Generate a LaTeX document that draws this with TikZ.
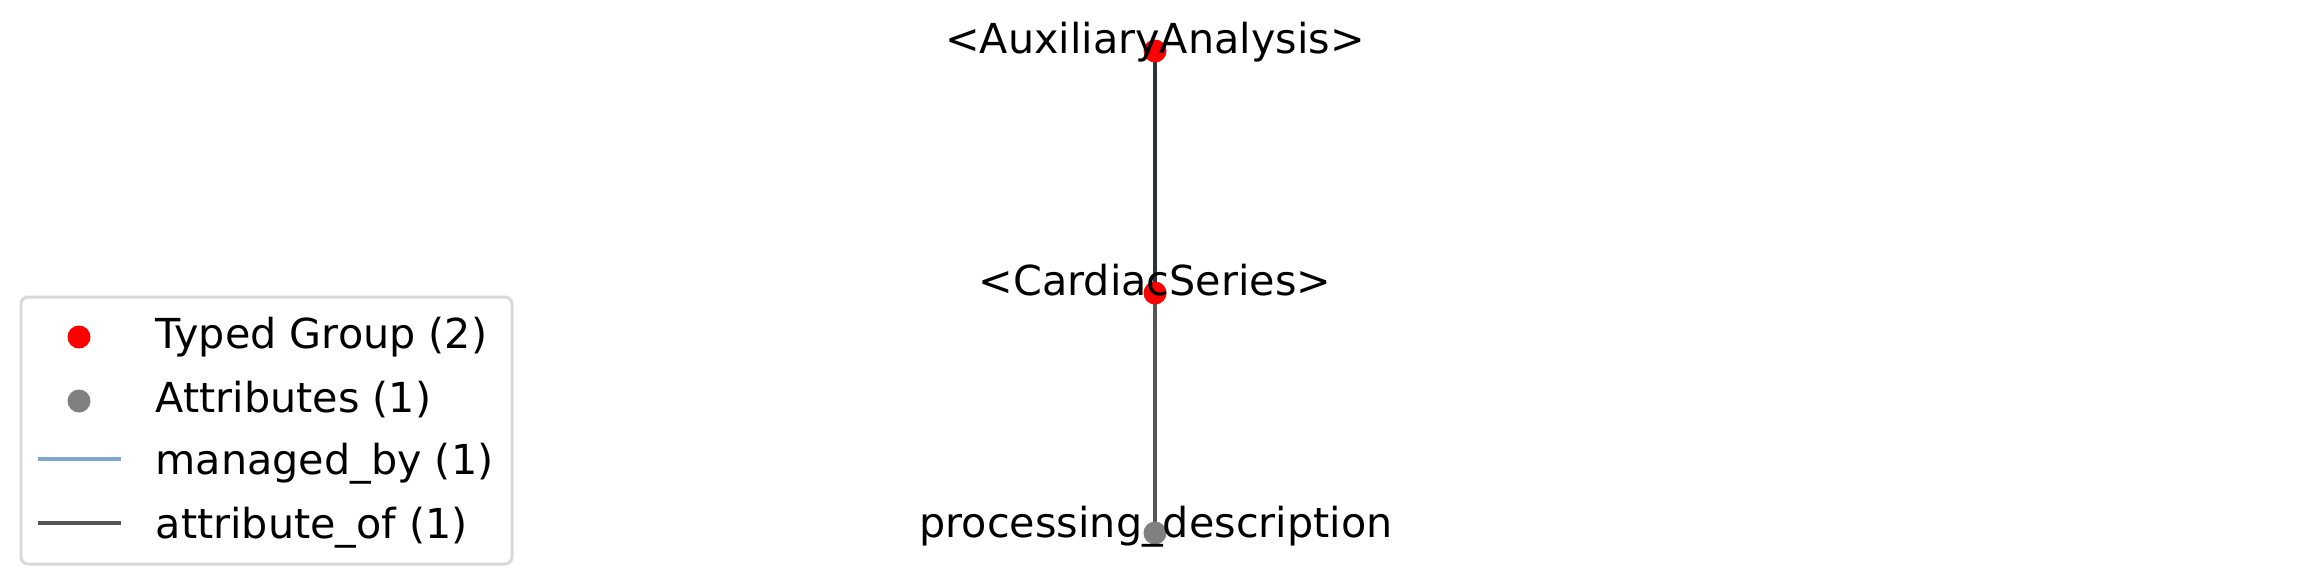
\documentclass[tikz,border=0pt]{standalone}
\usepackage{fontspec}
\setmainfont{DejaVu Sans}
\usetikzlibrary{backgrounds}
\definecolor{groupred}{RGB}{255,0,0}
\definecolor{attrgray}{RGB}{128,128,128}
\definecolor{managedblue}{RGB}{126,168,203}
\definecolor{attrline}{RGB}{85,85,85}
\definecolor{topline}{RGB}{38,50,60}
\definecolor{legendframe}{RGB}{217,217,217}
\tikzset{
  dot/.style={circle,inner sep=0pt,minimum size=0.23cm},
  lbl/.style={inner sep=0pt,anchor=base,font=\fontsize{11.75pt}{14pt}\selectfont},
  edge/.style={line width=0.95pt}
}
\begin{document}
\begin{tikzpicture}
      \useasboundingbox (0,0) rectangle (23.1,5.85);
      \node[dot,fill=groupred] (aux) at (11.55,5.34) {};
      \node[dot,fill=groupred] (cardiac) at (11.55,2.92) {};
      \node[dot,fill=attrgray] (proc) at (11.55,0.52) {};
      \begin{scope}[on background layer]
        \draw[edge,color=topline] (aux.center) -- (cardiac.center);
        \draw[edge,color=attrline] (cardiac.center) -- (proc.center);
      \end{scope}
      \node[lbl] (auxlabel) at (11.55,5.32) {<AuxiliaryAnalysis>};
      \node[lbl] (cardiaclabel) at (11.55,2.90) {<CardiacSeries>};
      \node[lbl] (proclabel) at (11.56,0.48) {processing\_description};
      % legend
      \draw[legendframe,line width=0.85pt,rounded corners=0.07cm,fill=white]
        (0.21,0.21) rectangle (5.12,2.88);
      \foreach \y/\c/\t/\n in{%
        2.37/groupred/{Typed Group (2)}/lgroup,
        1.73/attrgray/{Attributes (1)}/lattr
      }{
        \node[dot,fill=\c] (\n dot) at (0.79,\y+0.11) {};
        \node[lbl,anchor=base west] (\n) at (1.55,\y) {\t};
      }
      \foreach \y/\c/\t/\n in{%
        1.11/managedblue/{managed\_by (1)}/lmanaged,
        0.47/attrline/{attribute\_of (1)}/lattrof
      }{
        \coordinate (\n a) at (0.38,\y+0.15);
        \coordinate (\n b) at (1.21,\y+0.15);
        \draw[edge,color=\c] (\n a) -- (\n b);
        \node[lbl,anchor=base west] (\n) at (1.55,\y) {\t};
      }
    \end{tikzpicture}
\end{document}
